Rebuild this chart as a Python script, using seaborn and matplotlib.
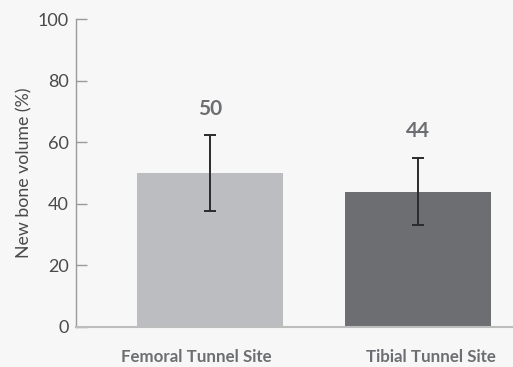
import matplotlib
matplotlib.use("Agg")
import matplotlib.pyplot as plt
import matplotlib.transforms as mtransforms
import seaborn as sns
import pandas as pd

# Data
sites = ["Femoral Tunnel Site", "Tibial Tunnel Site"]
new_bone_volume = [50, 44]
std_dev = [12.3, 11.0]
bar_colors = ["#bcbdc0", "#6d6e71"]

sns.set_style("white")
plt.rcParams["font.family"] = ["Lato", "DejaVu Sans"]

bg = "#f7f7f7"
fig = plt.figure(figsize=(5.13, 3.67), dpi=100, facecolor=bg)
ax = fig.add_axes([0.148, 0.109, 0.852, 0.839])
ax.set_facecolor(bg)

df = pd.DataFrame({"site": sites, "volume": new_bone_volume})
sns.barplot(data=df, x="site", y="volume", hue="site", palette=bar_colors,
            width=0.70, legend=False, ax=ax, saturation=1, linewidth=0)

ax.errorbar(range(len(sites)), new_bone_volume, yerr=std_dev, fmt="none",
            ecolor="#2b2b2b", elinewidth=1.4, capsize=4.5, capthick=1.4, zorder=3)

for i, (v, e) in enumerate(zip(new_bone_volume, std_dev)):
    ax.text(i, v + e + 8.5, f"{v}", ha="center", va="center",
            fontsize=15, fontweight="bold", color="#6d6e71")

ax.set_ylim(0, 100)
ax.set_xlim(-0.644, 1.457)
ax.set_yticks([0, 20, 40, 60, 80, 100])
ax.tick_params(axis="y", direction="in", length=8, width=1, color="#9a9a9a",
               labelsize=13, labelcolor="#4a4a4a", pad=5, left=True)
ax.tick_params(axis="x", length=0, labelsize=12.2, labelcolor="#6d6e71", pad=16)

# nudge category labels slightly apart
for lbl, dx in zip(ax.get_xticklabels(), [-14, 13]):
    lbl.set_fontweight("bold")
    lbl.set_transform(lbl.get_transform() +
                      mtransforms.ScaledTranslation(dx / 100, 0, fig.dpi_scale_trans))

ax.set_xlabel("")
ax.set_ylabel("New bone volume (%)", fontsize=12.8, color="#4a4a4a", labelpad=4)

for side in ["top", "right"]:
    ax.spines[side].set_visible(False)
ax.spines["left"].set_color("#9a9a9a")
ax.spines["left"].set_linewidth(1.0)
ax.spines["bottom"].set_color("#bdbdbd")
ax.spines["bottom"].set_linewidth(1.5)

fig.savefig("out.png", dpi=100, facecolor=bg)
